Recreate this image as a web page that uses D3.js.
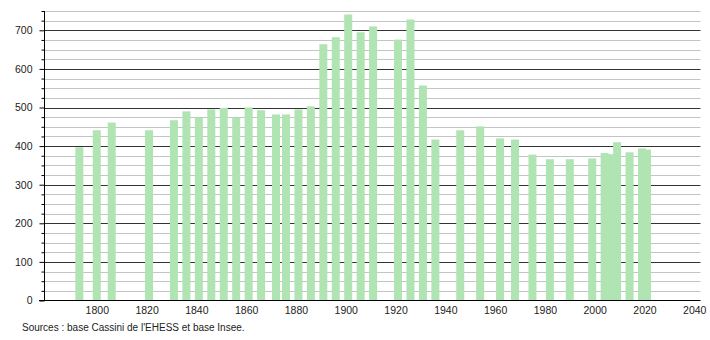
<!DOCTYPE html>
<html>
<head>
<meta charset="utf-8">
<script src="https://cdn.jsdelivr.net/npm/d3@7"></script>
<style>
  body { margin: 0; background: #fff; }
  text { font-family: "Liberation Sans", Arial, sans-serif; }
</style>
</head>
<body>
<div id="chart"></div>
<script>
// census years and population
var years = [1793, 1800, 1806, 1821, 1831, 1836, 1841, 1846, 1851, 1856,
    1861, 1866, 1872, 1876, 1881, 1886, 1891, 1896, 1901, 1906,
    1911, 1921, 1926, 1931, 1936, 1946, 1954, 1962, 1968, 1975,
    1982, 1990, 1999, 2004, 2006, 2009, 2014, 2019, 2021];
var population = [397, 441, 461, 441, 467, 490, 474, 495, 499, 474,
    500, 493, 482, 482, 495, 503, 664, 682, 741, 695,
    710, 676, 728, 557, 417, 441, 451, 420, 417, 378,
    366, 366, 368, 382, 379, 410, 384, 394, 391];
var xTicks = [1800, 1820, 1840, 1860, 1880, 1900, 1920, 1940, 1960, 1980, 2000, 2020, 2040];
var yTicks = [0, 100, 200, 300, 400, 500, 600, 700];
var source = "Sources : base Cassini de l'EHESS et base Insee.";

var width = 710, height = 340;
var svg = d3.select("#chart").append("svg")
    .attr("width", width)
    .attr("height", height);

var x = d3.scaleLinear()
    .domain([1779, 2042.5])
    .range([44.5, 700.5]);

var y = d3.scaleLinear()
    .domain([0, 750])
    .range([300.5, 11]);

// grid: light lines every 25, dark every 100
var minor = d3.range(25, 751, 25).filter(function(v) { return v % 100 != 0; });
svg.append("g").selectAll("line")
    .data(minor)
    .enter().append("line")
    .attr("x1", 44.5).attr("x2", 700.5)
    .attr("y1", function(d) { return Math.round(y(d)) + 0.5; })
    .attr("y2", function(d) { return Math.round(y(d)) + 0.5; })
    .attr("stroke", "#c4c4c4");

svg.append("g").selectAll("line")
    .data(yTicks.slice(1))
    .enter().append("line")
    .attr("x1", 44.5).attr("x2", 700.5)
    .attr("y1", function(d) { return Math.round(y(d)) + 0.5; })
    .attr("y2", function(d) { return Math.round(y(d)) + 0.5; })
    .attr("stroke", "#333");

// bars
var barW = 8;
svg.append("g").selectAll("rect")
    .data(years)
    .enter().append("rect")
    .attr("x", function(d) { return x(d) - barW / 2; })
    .attr("width", barW)
    .attr("y", function(d, i) { return y(population[i]); })
    .attr("height", function(d, i) { return y(0) - y(population[i]); })
    .attr("fill", "#b0e4b2");

// y axis with minor ticks
svg.append("g")
    .attr("transform", "translate(44.5,0)")
    .call(d3.axisLeft(y).tickValues(minor).tickSize(3).tickFormat(""))
    .call(function(g) { g.select(".domain").remove(); });

var yAxis = svg.append("g")
    .attr("transform", "translate(44.5,0)")
    .call(d3.axisLeft(y).tickValues(yTicks).tickSize(5).tickSizeOuter(0).tickPadding(7));
yAxis.select(".domain").attr("d", "M0," + y(750) + "V" + y(0));
yAxis.selectAll("text").style("font-size", "10.5px").attr("fill", "#222");

// x axis
var xAxis = svg.append("g")
    .attr("transform", "translate(0,300.5)")
    .call(d3.axisBottom(x).tickValues(xTicks).tickSize(0).tickPadding(6).tickFormat(d3.format("d")));
xAxis.select(".domain").attr("d", "M39," + 0 + "H700.5");
xAxis.selectAll("text").style("font-size", "10.5px").attr("fill", "#222");

svg.append("text")
    .attr("x", 22)
    .attr("y", 331)
    .style("font-size", "10px")
    .attr("fill", "#222")
    .text(source);
</script>
</body>
</html>
